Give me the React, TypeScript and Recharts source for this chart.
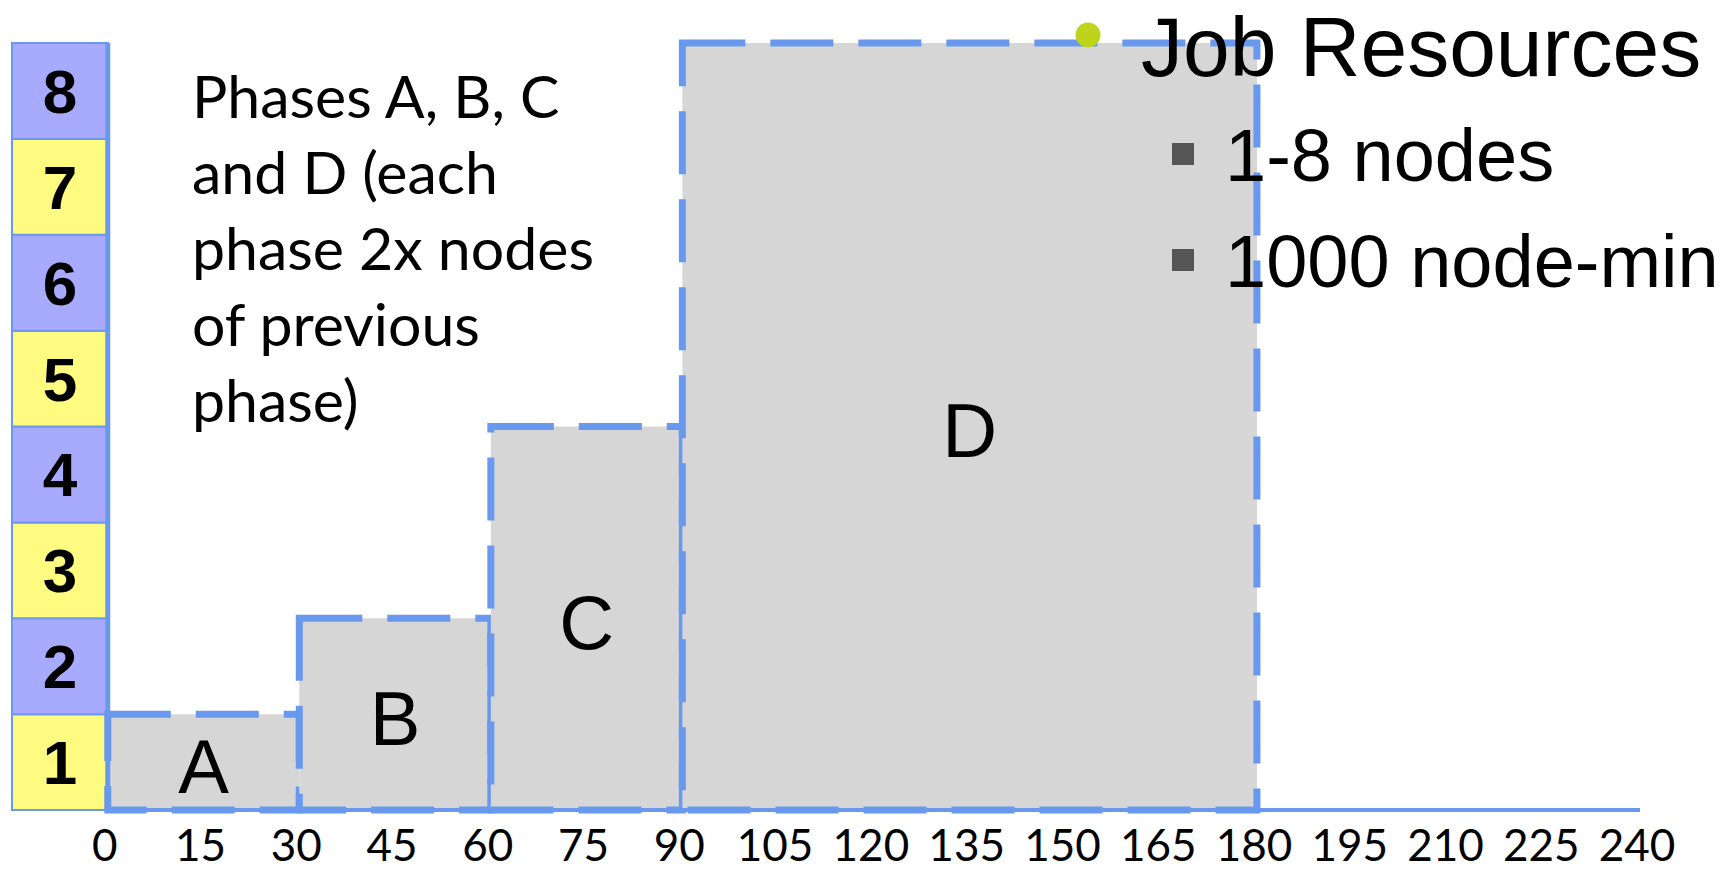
import React from 'react';
import { ComposedChart, XAxis, YAxis, ReferenceArea, ReferenceLine } from 'recharts';

// Job phases: start/end time (minutes) and node count for each phase
const phaseNames = ['A', 'B', 'C', 'D'];
const phaseStartMin = [0, 30, 60, 90];
const phaseEndMin = [30, 60, 90, 180];
const phaseNodes = [1, 2, 4, 8];

// Node scale shown as a stacked column of cells on the left
const nodeLevels = [1, 2, 3, 4, 5, 6, 7, 8];

// Time axis ticks (minutes)
const timeTicks = [0, 15, 30, 45, 60, 75, 90, 105, 120, 135, 150, 165, 180, 195, 210, 225, 240];

const descriptionLines = ['Phases A, B, C', 'and D (each', 'phase 2x nodes', 'of previous', 'phase)'];
const legendTitle = 'Job Resources';
const legendItems = ['1-8 nodes', '1000 node-min'];

const W = 1736;
const H = 874;

const BLUE = '#6899EE';
const CELL_YELLOW = '#FEFB80';
const CELL_LAVENDER = '#A8AAFE';
const PHASE_FILL = '#D6D6D6';

const phaseRows = phaseNames.map((name, i) => ({
  name,
  start: phaseStartMin[i],
  end: phaseEndMin[i],
  nodes: phaseNodes[i],
}));

export default function App() {
  return (
    <div style={{ position: 'absolute', left: 0, top: 0, width: W, height: H, background: '#fff', overflow: 'hidden' }}>
      <ComposedChart
        width={W}
        height={H}
        data={phaseRows}
        margin={{ top: 43, right: 96, bottom: 0, left: 12 }}
      >
        <XAxis
          type="number"
          dataKey="start"
          domain={[-15, 240]}
          ticks={timeTicks}
          allowDataOverflow
          axisLine={false}
          tickLine={false}
          tickMargin={14}
          height={64}
          interval={0}
          tick={{ fill: '#000', fontSize: 44, fontFamily: 'Lato, sans-serif', dx: -3 }}
        />
        <YAxis type="number" domain={[0, 8]} hide width={0} allowDataOverflow />

        {nodeLevels.map((n) => (
          <ReferenceArea
            key={`cell-${n}`}
            x1={-15}
            x2={0}
            y1={n - 1}
            y2={n}
            fill={n % 2 === 1 ? CELL_YELLOW : CELL_LAVENDER}
            fillOpacity={1}
            stroke={BLUE}
            strokeWidth={2}
            label={{
              value: String(n),
              position: 'center',
              fill: '#000',
              fontSize: 62,
              fontWeight: 700,
              fontFamily: 'Liberation Sans, Arial, sans-serif',
            }}
          />
        ))}

        <ReferenceLine
          segment={[{ x: 0, y: 0 }, { x: 0, y: 8 }]}
          stroke={BLUE}
          strokeWidth={5}
        />

        {phaseRows.map((p) => (
          <ReferenceArea
            key={`phase-${p.name}`}
            x1={p.start}
            x2={p.end}
            y1={0}
            y2={p.nodes}
            fill={PHASE_FILL}
            fillOpacity={1}
            stroke={BLUE}
            strokeWidth={7}
            strokeDasharray="63 25"
            label={{
              value: p.name,
              position: 'center',
              fill: '#000',
              fontSize: 76,
              dy: 4,
              fontFamily: 'Liberation Sans, Arial, sans-serif',
            }}
          />
        ))}

        <ReferenceLine
          segment={[{ x: 0, y: 0 }, { x: 240, y: 0 }]}
          stroke={BLUE}
          strokeWidth={4}
        />
      </ComposedChart>

      <svg
        width={W}
        height={H}
        style={{ position: 'absolute', left: 0, top: 0, pointerEvents: 'none' }}
      >
        <g fontFamily="Lato, sans-serif" fontSize={59} fill="#000">
          {descriptionLines.map((line, i) => (
            <text key={line} x={192} y={118 + i * 76}>
              {line}
            </text>
          ))}
        </g>
        <g fontFamily="Liberation Sans, Arial, sans-serif" fill="#000">
          <circle cx={1088} cy={35} r={12.5} fill="#BDD31C" />
          <text x={1141} y={76} fontSize={84}>
            {legendTitle}
          </text>
          {legendItems.map((item, i) => (
            <g key={item}>
              <rect x={1172} y={143 + i * 106} width={22} height={22} fill="#555" />
              <text x={1225} y={181 + i * 106} fontSize={74}>
                {item}
              </text>
            </g>
          ))}
        </g>
      </svg>
    </div>
  );
}
